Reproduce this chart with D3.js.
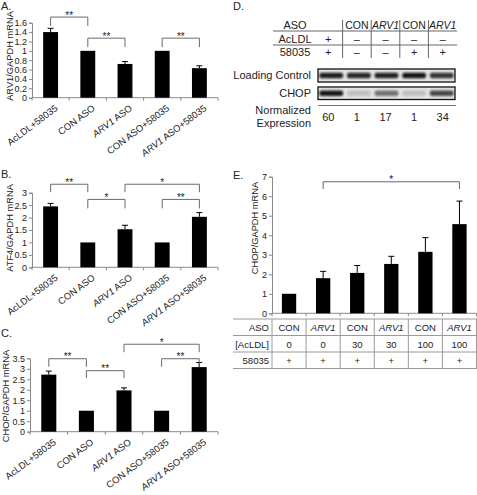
<!DOCTYPE html>
<html><head><meta charset="utf-8">
<script src="https://cdn.jsdelivr.net/npm/d3@7"></script>
<style>
body{margin:0;background:#fff}
svg{display:block}
text{font-family:"Liberation Sans",Arial,sans-serif;fill:#222}
</style>
</head><body>
<svg id="c" width="477" height="495"></svg>
<script>
// ---------- data ----------
const groupsABC = ["AcLDL+58035","CON ASO","ARV1 ASO","CON ASO+58035","ARV1 ASO+58035"];
const arv1Mean = [1.40,1.00,0.72,1.00,0.63];
const arv1Err  = [0.08,0.00,0.05,0.00,0.05];
const atf4Mean = [2.45,1.00,1.53,1.00,2.03];
const atf4Err  = [0.12,0.00,0.16,0.00,0.17];
const chopMean = [2.72,1.00,1.97,1.00,3.08];
const chopErr  = [0.17,0.00,0.12,0.00,0.22];
const ticksA = [0,0.2,0.4,0.6,0.8,1,1.2,1.4,1.6];
const ticksB = [0,0.5,1,1.5,2,2.5,3];
const ticksC = [0,0.5,1,1.5,2,2.5,3,3.5];
const ticksE = [0,1,2,3,4,5,6,7];
const sigA = [{from:0,to:1,label:"**",top:1.72,leg:1.53},{from:1,to:2,label:"**",top:1.27,leg:1.08},{from:3,to:4,label:"**",top:1.27,leg:1.08}];
const sigB = [{from:0,to:1,label:"**",top:3.34,leg:3.02},{from:2,to:4,label:"*",top:3.34,leg:3.02},{from:1,to:2,label:"*",top:2.73,leg:2.37},{from:3,to:4,label:"**",top:2.73,leg:2.37}];
const sigC = [{from:2,to:4,label:"*",top:4.17,leg:3.79},{from:0,to:1,label:"**",top:3.48,leg:3.1},{from:3,to:4,label:"**",top:3.48,leg:3.1},{from:1,to:2,label:"**",top:2.91,leg:2.55}];

const eASO    = ["CON","ARV1","CON","ARV1","CON","ARV1"];
const eAcLDL  = ["0","0","30","30","100","100"];
const e58035  = ["+","+","+","+","+","+"];
const chopEMean = [1.00,1.80,2.07,2.53,3.15,4.57];
const chopEErr  = [0.01,0.35,0.38,0.39,0.73,1.18];
const sigE = [{from:1,to:5,label:"*",top:6.74,leg:6.37}];

const dASO    = ["","CON","ARV1","CON","ARV1"];
const dAcLDL  = ["+","\u2013","\u2013","\u2013","\u2013"];
const d58035  = ["+","\u2013","\u2013","+","+"];
const dLoading = [0.92,0.88,0.9,0.97,0.82];
const dNormExpr = [60,1,17,1,34];

// ---------- helpers ----------
const svg = d3.select("#c");
const INK = "#222", AX = "#8a8a8a", BR = "#6a6a6a";

function richText(sel, str){
  const parts = str.split(/(ARV1)/).filter(s=>s.length);
  parts.forEach(p=>{
    sel.append("tspan").attr("font-style", p==="ARV1"?"italic":null).text(p);
  });
}

function barPanel(o){
  const g = svg.append("g");
  const n = o.means.length;
  const x = d3.scaleBand().domain(d3.range(n)).range([o.x0,o.x1]).paddingInner(o.pad).paddingOuter(o.pad/2);
  const y = d3.scaleLinear().domain([0,o.max]).range([o.y0,o.yTop]);
  const cell = x.step();
  const ya = g.append("g").attr("transform",`translate(${o.x0},0)`)
    .call(d3.axisLeft(y).tickValues(o.ticks).tickSize(3).tickPadding(2).tickFormat(d=>String(+d.toFixed(1))));
  ya.select(".domain").attr("stroke",AX);
  ya.selectAll(".tick line").attr("stroke",AX);
  ya.selectAll(".tick text").attr("font-size",o.tickFs).attr("fill",INK).attr("font-family","Liberation Sans, Arial, sans-serif");
  g.append("line").attr("x1",o.x0).attr("x2",o.x1).attr("y1",o.y0).attr("y2",o.y0).attr("stroke",AX);
  g.selectAll(".xt").data(d3.range(n+1)).join("line")
    .attr("x1",i=>o.x0+i*cell).attr("x2",i=>o.x0+i*cell)
    .attr("y1",o.y0).attr("y2",o.y0+3).attr("stroke",AX);
  g.selectAll(".bar").data(o.means).join("rect")
    .attr("x",(d,i)=>x(i)).attr("width",x.bandwidth())
    .attr("y",d=>y(d)).attr("height",d=>o.y0-y(d)).attr("fill","#000");
  const eb = g.selectAll(".eb").data(o.means.map((m,i)=>({m,e:o.errs[i],i})).filter(d=>d.e>0.02)).join("g");
  eb.append("line").attr("x1",d=>x(d.i)+x.bandwidth()/2).attr("x2",d=>x(d.i)+x.bandwidth()/2)
    .attr("y1",d=>y(d.m)).attr("y2",d=>y(d.m+d.e)).attr("stroke","#000").attr("stroke-width",1);
  eb.append("line").attr("x1",d=>x(d.i)+x.bandwidth()/2-3).attr("x2",d=>x(d.i)+x.bandwidth()/2+3)
    .attr("y1",d=>y(d.m+d.e)).attr("y2",d=>y(d.m+d.e)).attr("stroke","#000").attr("stroke-width",1);
  const cx = i=>x(i)+x.bandwidth()/2;
  o.sig.forEach(s=>{
    g.append("path").attr("fill","none").attr("stroke",BR).attr("stroke-width",1)
      .attr("d",`M${cx(s.from)},${y(s.leg)}V${y(s.top)}H${cx(s.to)}V${y(s.leg)}`);
    g.append("text").attr("x",(cx(s.from)+cx(s.to))/2).attr("y",y(s.top)+1.5)
      .attr("text-anchor","middle").attr("font-size",10).text(s.label);
  });
  g.append("text").attr("transform",`translate(${o.ylx},${o.lyc}) rotate(-90)`)
    .attr("text-anchor","middle").attr("dy","0.35em").attr("font-size",o.ylFs).text(o.ylabel);
  g.append("text").attr("x",o.lx).attr("y",o.ly).attr("font-size",11).text(o.letter);
  if(o.cats){
    o.cats.forEach((c,i)=>{
      const t = g.append("text").attr("transform",`translate(${cx(i)+5},${o.y0+8}) rotate(-37)`)
        .attr("text-anchor","end").attr("dy","0.5em").attr("font-size",9.5);
      richText(t,c);
    });
  }
  return {x,y,g};
}

// ---------- panels A, B, C ----------
barPanel({means:arv1Mean,errs:arv1Err,sig:sigA,ticks:ticksA,max:1.6,x0:32,x1:218,y0:97.7,yTop:22.7,pad:0.6,
  tickFs:9,ylabel:"ARV1/GAPDH mRNA",ylx:10,lyc:56,ylFs:9.3,letter:"A.",lx:1,ly:10,cats:groupsABC});
barPanel({means:atf4Mean,errs:atf4Err,sig:sigB,ticks:ticksB,max:3,x0:32,x1:218,y0:267.3,yTop:192.7,pad:0.6,
  tickFs:9,ylabel:"ATF4/GAPDH mRNA",ylx:10,lyc:228,ylFs:9.3,letter:"B.",lx:1,ly:178,cats:groupsABC});
barPanel({means:chopMean,errs:chopErr,sig:sigC,ticks:ticksC,max:3.5,x0:30,x1:218,y0:431.7,yTop:358.3,pad:0.6,
  tickFs:9,ylabel:"CHOP/GAPDH mRNA",ylx:6,lyc:396,ylFs:9.3,letter:"C.",lx:1,ly:337,cats:groupsABC});

// ---------- panel E ----------
barPanel({means:chopEMean,errs:chopEErr,sig:sigE,ticks:ticksE,max:7,x0:272,x1:476.5,y0:313.3,yTop:176.7,pad:0.58,
  tickFs:9,ylabel:"CHOP/GAPDH mRNA",ylx:255,lyc:228,ylFs:9.3,letter:"E.",lx:233,ly:179,cats:null});
{
  const g = svg.append("g");
  const cell = (476.5-272)/eASO.length;
  const rowsY = [319,335.5,352,368.5];
  g.selectAll(".hl").data(rowsY).join("line").attr("x1",233).attr("x2",477).attr("y1",d=>d).attr("y2",d=>d)
    .attr("stroke","#9a9a9a");
  g.selectAll(".vl").data(d3.range(eASO.length+1)).join("line")
    .attr("x1",i=>272+i*cell).attr("x2",i=>272+i*cell).attr("y1",319).attr("y2",368.5).attr("stroke","#9a9a9a");
  const rowLabels = ["ASO","[AcLDL]","58035"];
  const rows = [eASO,eAcLDL,e58035];
  rows.forEach((r,ri)=>{
    const by = rowsY[ri]+12;
    g.append("text").attr("x",269).attr("y",by).attr("text-anchor","end").attr("font-size",9.5).text(rowLabels[ri]);
    r.forEach((v,ci)=>{
      const t = g.append("text").attr("x",272+(ci+0.5)*cell).attr("y",by).attr("text-anchor","middle").attr("font-size",9.5);
      richText(t,v);
    });
  });
}

// ---------- panel D ----------
{
  const g = svg.append("g");
  g.append("text").attr("x",233).attr("y",10).attr("font-size",11).text("D.");
  const cols = d3.scaleBand().domain(d3.range(dASO.length)).range([314,457]);
  const rowLabels = ["ASO","AcLDL","58035"];
  const rows = [dASO,dAcLDL,d58035];
  const base = [29,42.5,56];
  rows.forEach((r,ri)=>{
    g.append("text").attr("x",295).attr("y",base[ri]).attr("text-anchor","middle").attr("font-size",11).text(rowLabels[ri]);
    r.forEach((v,ci)=>{
      const t = g.append("text").attr("x",cols(ci)+cols.bandwidth()/2).attr("y",base[ri])
        .attr("text-anchor","middle").attr("font-size",ri===0?10.5:11);
      richText(t,v);
    });
  });
  [31,45].forEach(yy=>g.append("line").attr("x1",273).attr("x2",457).attr("y1",yy).attr("y2",yy).attr("stroke","#666"));
  d3.range(1,dASO.length).forEach(i=>g.append("line").attr("x1",cols(i)).attr("x2",cols(i)).attr("y1",20).attr("y2",58).attr("stroke","#666"));

  const defs = svg.append("defs");
  defs.append("filter").attr("id","blur").attr("x","-20%").attr("y","-50%").attr("width","140%").attr("height","200%")
    .append("feGaussianBlur").attr("stdDeviation",0.9);
  const lanes = d3.scaleBand().domain(d3.range(dNormExpr.length)).range([318,455]).paddingInner(0.14).paddingOuter(0.05);
  const op = d3.scaleSqrt().domain([0,60]).range([0.05,0.95]);
  const boxes = [{y:69,h:13,vals:dLoading,f:v=>v},{y:87,h:12.5,vals:dNormExpr,f:v=>op(v)}];
  boxes.forEach(b=>{
    g.append("rect").attr("x",318).attr("y",b.y).attr("width",137).attr("height",b.h).attr("fill","#e4e4e4");
    g.selectAll(null).data(b.vals).join("rect")
      .attr("x",(d,i)=>lanes(i)).attr("width",lanes.bandwidth())
      .attr("y",b.y+b.h/2-2.8).attr("height",5.6).attr("rx",2)
      .attr("fill","#111").attr("opacity",d=>b.f(d)).attr("filter","url(#blur)");
    g.append("rect").attr("x",318).attr("y",b.y).attr("width",137).attr("height",b.h).attr("fill","none")
      .attr("stroke","#111").attr("stroke-width",1.3);
  });
  g.append("text").attr("x",311).attr("y",79).attr("text-anchor","end").attr("font-size",11).text("Loading Control");
  g.append("text").attr("x",311).attr("y",97).attr("text-anchor","end").attr("font-size",11).text("CHOP");
  g.append("line").attr("x1",318).attr("x2",456).attr("y1",105.5).attr("y2",105.5).attr("stroke","#777");
  g.append("text").attr("x",311).attr("y",114).attr("text-anchor","end").attr("font-size",11).text("Normalized");
  g.append("text").attr("x",311).attr("y",127).attr("text-anchor","end").attr("font-size",11).text("Expression");
  dNormExpr.forEach((v,i)=>g.append("text").attr("x",cols(i)+cols.bandwidth()/2).attr("y",121)
    .attr("text-anchor","middle").attr("font-size",11).text(v));
}
</script>
</body></html>
